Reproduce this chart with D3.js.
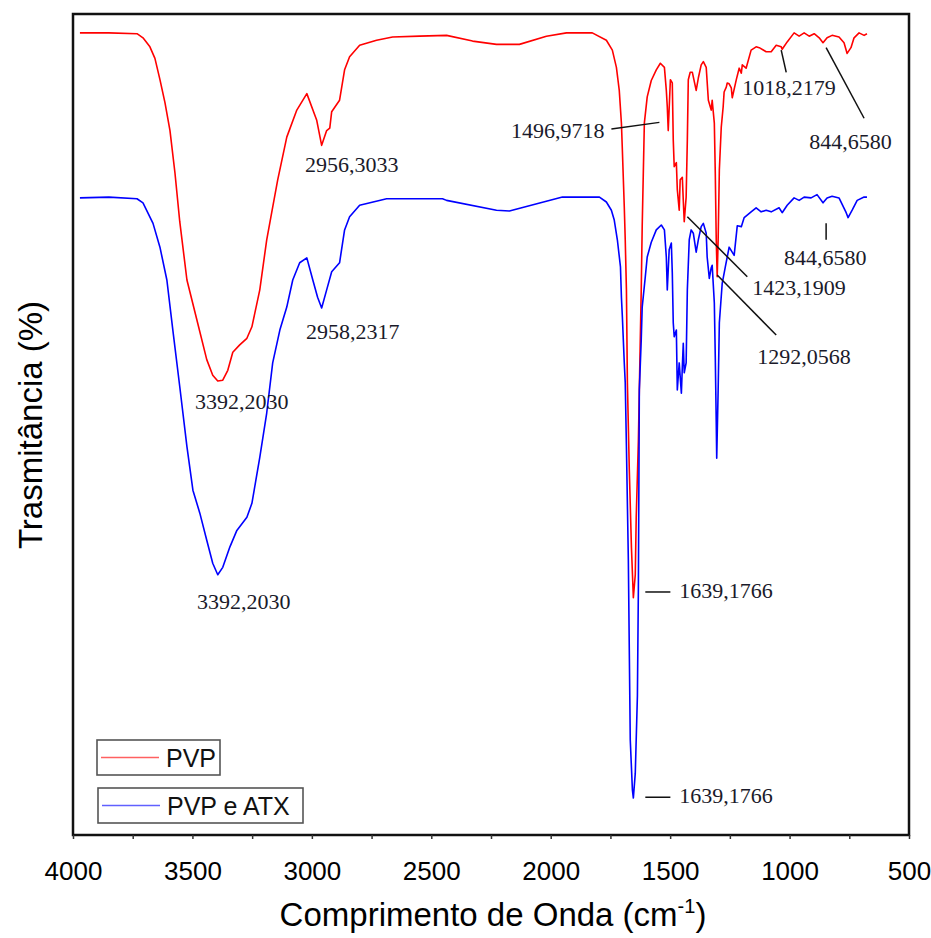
<!DOCTYPE html>
<html>
<head>
<meta charset="utf-8">
<script src="https://cdn.jsdelivr.net/npm/d3@7/dist/d3.min.js"></script>
<style>
    body { margin: 0; background: #fff; }
    svg { display: block; }
</style>
</head>
<body>
<div id="chart"></div>
<script>
// FTIR spectra: [wavenumber (cm-1), transmittance (%)]
let pvp = [
    [3971, 97.7], [3850, 97.7], [3732, 97.6], [3707, 97.1], [3678, 96.0], [3657, 94.6],
    [3636, 92.0], [3615, 89.2], [3594, 85.8], [3573, 80.6], [3553, 74.7], [3523, 67.6],
    [3481, 62.7], [3440, 57.9], [3415, 56.0], [3394, 55.3], [3373, 55.4], [3352, 56.6],
    [3331, 58.8], [3302, 59.7], [3272, 60.5], [3251, 61.9], [3218, 66.4], [3189, 72.5],
    [3172, 75.2], [3143, 79.8], [3105, 85.0], [3063, 88.3], [3021, 90.3], [2980, 87.1],
    [2959, 84.0], [2938, 85.8], [2925, 86.1], [2917, 88.1], [2884, 89.5], [2863, 93.2],
    [2842, 94.8], [2800, 96.2], [2729, 96.8], [2662, 97.2], [2549, 97.3], [2436, 97.4],
    [2327, 96.7], [2227, 96.3], [2131, 96.3], [2018, 97.3], [1934, 97.7], [1826, 97.7],
    [1767, 96.8], [1742, 95.6], [1725, 93.5], [1713, 90.7], [1704, 86.7], [1700, 83.4],
    [1692, 76.5], [1688, 72.5], [1683, 66.4], [1679, 55.1], [1671, 44.5], [1662, 35.0],
    [1654, 28.9], [1646, 31.7], [1642, 38.7], [1633, 48.0], [1629, 54.2], [1621, 66.4],
    [1617, 74.1], [1608, 86.7], [1596, 89.9], [1579, 91.9], [1558, 93.2], [1541, 94.0],
    [1524, 93.5], [1516, 90.7], [1512, 88.7], [1508, 85.8], [1499, 92.0], [1491, 91.6],
    [1487, 84.7], [1483, 81.4], [1474, 81.9], [1470, 78.6], [1462, 76.1], [1458, 79.8],
    [1449, 80.1], [1445, 77.3], [1441, 74.7], [1433, 77.7], [1428, 84.7], [1424, 92.0],
    [1416, 92.9], [1407, 92.9], [1391, 90.7], [1382, 92.2], [1370, 93.8], [1361, 94.2],
    [1349, 93.5], [1340, 89.5], [1328, 88.3], [1324, 89.5], [1315, 86.7], [1311, 80.6],
    [1307, 72.5], [1303, 68.0], [1299, 72.5], [1294, 81.0], [1286, 86.2], [1278, 88.7],
    [1274, 90.5], [1265, 91.1], [1261, 91.6], [1253, 91.5], [1244, 91.0], [1240, 89.8],
    [1223, 92.0], [1211, 93.4], [1202, 92.8], [1198, 93.8], [1182, 93.4], [1161, 95.6],
    [1140, 96.0], [1127, 95.9], [1098, 95.4], [1077, 95.4], [1056, 96.2], [1035, 96.0],
    [1031, 95.7], [1010, 96.6], [981, 97.7], [960, 97.3], [939, 97.7], [918, 97.3],
    [897, 97.6], [876, 97.1], [860, 96.5], [843, 97.1], [822, 97.4], [793, 97.2],
    [772, 96.5], [759, 95.2], [743, 95.9], [730, 97.1], [709, 97.7], [688, 97.4],
    [676, 97.6]
];

let pvpAtx = [
    [3971, 77.6], [3850, 77.7], [3732, 77.5], [3707, 77.0], [3665, 74.5], [3636, 71.6],
    [3607, 67.6], [3582, 61.5], [3553, 54.6], [3523, 47.3], [3498, 42.0], [3469, 39.2],
    [3440, 35.9], [3415, 33.1], [3394, 31.7], [3373, 32.6], [3343, 35.1], [3314, 37.1],
    [3272, 38.7], [3251, 40.4], [3218, 46.0], [3189, 51.4], [3164, 57.5], [3134, 61.5],
    [3105, 64.3], [3080, 67.6], [3051, 69.7], [3021, 70.3], [2996, 67.6], [2976, 65.5],
    [2959, 64.2], [2938, 66.4], [2917, 68.6], [2884, 69.7], [2863, 73.7], [2842, 75.3],
    [2800, 76.7], [2687, 77.5], [2453, 77.5], [2436, 77.3], [2227, 76.1], [2173, 76.0],
    [1951, 77.7], [1796, 77.7], [1767, 77.1], [1746, 76.1], [1734, 74.9], [1721, 72.5],
    [1708, 69.2], [1704, 65.5], [1700, 63.1], [1692, 57.5], [1688, 55.1], [1683, 47.3],
    [1675, 33.5], [1671, 22.5], [1667, 11.6], [1658, 5.5], [1654, 4.5], [1646, 7.5],
    [1637, 17.0], [1633, 30.0], [1629, 54.2], [1621, 60.3], [1617, 64.3], [1604, 68.0],
    [1596, 70.4], [1579, 72.2], [1558, 73.7], [1537, 74.3], [1524, 73.7], [1516, 70.4],
    [1512, 66.4], [1504, 71.3], [1495, 72.1], [1491, 68.5], [1487, 62.4], [1483, 60.7],
    [1474, 61.5], [1470, 54.2], [1462, 57.5], [1453, 53.8], [1449, 57.0], [1445, 59.9],
    [1441, 56.3], [1433, 57.5], [1428, 66.4], [1420, 72.5], [1412, 73.7], [1403, 73.3],
    [1391, 71.0], [1382, 72.5], [1370, 74.1], [1361, 74.5], [1349, 73.3], [1345, 70.4],
    [1336, 67.8], [1328, 69.1], [1324, 69.4], [1315, 64.8], [1311, 58.2], [1307, 50.2],
    [1305, 45.9], [1299, 54.2], [1294, 62.4], [1282, 67.2], [1269, 69.2], [1261, 70.4],
    [1253, 71.6], [1232, 70.6], [1219, 74.2], [1202, 74.1], [1190, 75.2], [1161, 75.9],
    [1140, 76.4], [1119, 75.9], [1098, 76.1], [1077, 75.9], [1044, 76.4], [1031, 75.8],
    [1010, 76.7], [981, 77.6], [960, 77.3], [939, 77.7], [910, 77.6], [885, 78.0],
    [860, 77.0], [843, 77.6], [822, 77.8], [793, 77.6], [763, 75.8], [755, 75.2],
    [738, 76.1], [717, 77.3], [688, 77.7], [676, 77.7]
];

let xTickValues = [4000, 3500, 3000, 2500, 2000, 1500, 1000, 500];
let seriesNames = ['PVP', 'PVP e ATX'];

// peak labels and where they sit (in data units: wn, T)
let peakTexts = ['2956,3033', '3392,2030', '2958,2317', '3392,2030', '1496,9718',
    '1018,2179', '844,6580', '844,6580', '1423,1909', '1292,0568', '1639,1766', '1639,1766'];
let peakTextPos = [
    [2833, 80.8, 'middle'], [3293, 51.9, 'middle'], [2829, 60.4, 'middle'], [3285, 27.5, 'middle'],
    [1775, 84.9, 'end'], [1198, 90.1, 'start'], [918, 83.6, 'start'], [1023, 69.4, 'start'],
    [1156, 65.8, 'start'], [1135, 57.4, 'start'], [1462, 28.9, 'start'], [1462, 3.9, 'start']
];
// leader lines [wn1, T1, wn2, T2], null = no line
let peakLeaders = [
    null, null, null, null,
    [1746, 86.0, 1545, 86.8],
    [1035, 95.6, 1014, 92.9],
    [847, 95.9, 688, 87.3],
    [847, 74.5, 847, 72.5],
    [1428, 75.3, 1177, 68.0],
    [1303, 68.2, 1056, 60.9],
    [1604, 29.6, 1499, 29.6],
    [1604, 4.6, 1499, 4.6]
];

let width = 931, height = 938;
let plot = { left: 73, right: 909, top: 14, bottom: 835 };
let colors = ['#ff0000', '#0000ff'];

let svg = d3.select('#chart').append('svg')
    .attr('width', width)
    .attr('height', height);

let x = d3.scaleLinear().domain([4000, 500]).range([plot.left, plot.right]);
let y = d3.scaleLinear().domain([0, 100]).range([plot.bottom, plot.top]);

let line = d3.line()
    .x(function(d) { return x(d[0]); })
    .y(function(d) { return y(d[1]); });

// spectra
[pvp, pvpAtx].forEach(function(series, i) {
    svg.append('path')
        .datum(series)
        .attr('d', line)
        .attr('fill', 'none')
        .attr('stroke', colors[i])
        .attr('stroke-width', 1.6)
        .attr('stroke-linejoin', 'round');
});

// peak annotations
let notes = svg.append('g').attr('class', 'peak-notes');
peakLeaders.forEach(function(l) {
    if (!l) return;
    notes.append('line')
        .attr('x1', x(l[0])).attr('y1', y(l[1]))
        .attr('x2', x(l[2])).attr('y2', y(l[3]))
        .attr('stroke', '#111')
        .attr('stroke-width', 1.5);
});
peakTexts.forEach(function(t, i) {
    let p = peakTextPos[i];
    notes.append('text')
        .attr('x', x(p[0]))
        .attr('y', y(p[1]))
        .attr('text-anchor', p[2])
        .attr('font-family', '"Liberation Serif", "Times New Roman", serif')
        .attr('font-size', 22)
        .attr('fill', '#1a1a2a')
        .text(t);
});

// frame
svg.append('rect')
    .attr('x', plot.left).attr('y', plot.top)
    .attr('width', plot.right - plot.left)
    .attr('height', plot.bottom - plot.top)
    .attr('fill', 'none')
    .attr('stroke', '#111')
    .attr('stroke-width', 2.5);

// small ticks every 250
let minorAxis = d3.axisBottom(x)
    .tickValues(d3.range(4000, 499, -250))
    .tickSize(4)
    .tickSizeOuter(0)
    .tickFormat('');
svg.append('g')
    .attr('transform', 'translate(0,' + plot.bottom + ')')
    .call(minorAxis)
    .call(function(g) { g.select('.domain').remove(); })
    .selectAll('line').attr('stroke', '#333').attr('stroke-width', 1.5);

let labelAxis = d3.axisBottom(x)
    .tickValues(xTickValues)
    .tickSize(0)
    .tickPadding(27)
    .tickFormat(d3.format('d'));
svg.append('g')
    .attr('transform', 'translate(0,' + plot.bottom + ')')
    .call(labelAxis)
    .call(function(g) { g.select('.domain').remove(); })
    .selectAll('text')
    .attr('font-family', '"Liberation Sans", Arial, sans-serif')
    .attr('font-size', 26)
    .attr('fill', '#000');

// axis titles
let xTitle = svg.append('text')
    .attr('x', (plot.left + plot.right) / 2 + 2)
    .attr('y', 926)
    .attr('text-anchor', 'middle')
    .attr('font-family', '"Liberation Sans", Arial, sans-serif')
    .attr('font-size', 33)
    .attr('fill', '#000');
xTitle.append('tspan').text('Comprimento de Onda (cm');
xTitle.append('tspan').attr('dy', -13).attr('font-size', 20).text('-1');
xTitle.append('tspan').attr('dy', 13).text(')');

svg.append('text')
    .attr('transform', 'translate(42,' + 425 + ') rotate(-90)')
    .attr('text-anchor', 'middle')
    .attr('font-family', '"Liberation Sans", Arial, sans-serif')
    .attr('font-size', 33)
    .attr('fill', '#000')
    .text('Trasmitância (%)');

// legend: two separate boxes
let legendBoxes = [
    { x: 97, y: 740, w: 123, h: 35 },
    { x: 98, y: 788, w: 205, h: 35 }
];
let legendColors = ['#ff6060', '#6060ff'];
seriesNames.forEach(function(name, i) {
    let b = legendBoxes[i];
    let g = svg.append('g').attr('transform', 'translate(' + b.x + ',' + b.y + ')');
    g.append('rect')
        .attr('width', b.w).attr('height', b.h)
        .attr('fill', '#fff')
        .attr('stroke', '#555')
        .attr('stroke-width', 1.6);
    g.append('line')
        .attr('x1', 4).attr('x2', 62)
        .attr('y1', b.h / 2).attr('y2', b.h / 2)
        .attr('stroke', legendColors[i])
        .attr('stroke-width', 1.6);
    g.append('text')
        .attr('x', 69).attr('y', b.h / 2 + 9)
        .attr('font-family', '"Liberation Sans", Arial, sans-serif')
        .attr('font-size', 25)
        .attr('fill', '#111')
        .text(name);
});
</script>
</body>
</html>
